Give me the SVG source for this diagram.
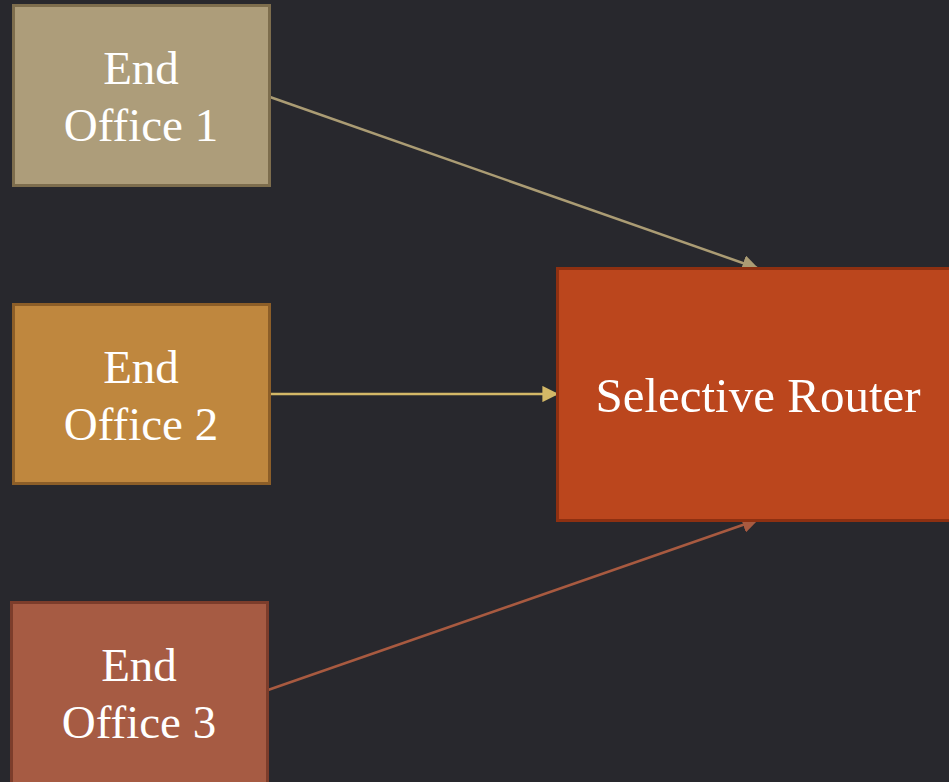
<svg xmlns="http://www.w3.org/2000/svg" width="949" height="782" viewBox="0 0 949 782">
<style>
.t{font-family:"Liberation Serif","DejaVu Serif",serif;fill:#ffffff;text-anchor:middle;font-size:47px}
.big{font-size:49px}
.box{stroke-width:3}
.c{fill:none;stroke-width:2.5}
</style>
<defs>
<marker id="a1" viewBox="0 0 10 10" refX="9" refY="5" markerWidth="6.5" markerHeight="6.5" markerUnits="strokeWidth" orient="auto"><path d="M0,0L10,5L0,10z" fill="#ab9c74"/></marker>
<marker id="a2" viewBox="0 0 10 10" refX="9" refY="5" markerWidth="6.5" markerHeight="6.5" markerUnits="strokeWidth" orient="auto"><path d="M0,0L10,5L0,10z" fill="#d3b867"/></marker>
<marker id="a3" viewBox="0 0 10 10" refX="9" refY="5" markerWidth="6.5" markerHeight="6.5" markerUnits="strokeWidth" orient="auto"><path d="M0,0L10,5L0,10z" fill="#a85a40"/></marker>
</defs>
<rect width="949" height="782" fill="#28282d"/>
<g id="connectors">
<line class="c" x1="270" y1="97" x2="757" y2="268" stroke="#ab9c74" marker-end="url(#a1)"/>
<line class="c" x1="270" y1="394" x2="557" y2="394" stroke="#d3b867" marker-end="url(#a2)"/>
<line class="c" x1="268" y1="690" x2="757" y2="520" stroke="#a85a40" marker-end="url(#a3)"/>
</g>
<g id="office1">
<rect class="box" x="13.5" y="5.5" width="256" height="180" fill="#ad9d7a" stroke="#7d6d4d"/>
<text class="t" x="141" y="84">End</text>
<text class="t" x="141" y="141">Office 1</text>
</g>
<g id="office2">
<rect class="box" x="13.5" y="304.5" width="256" height="179" fill="#bf873e" stroke="#8c5e28"/>
<text class="t" x="141" y="383">End</text>
<text class="t" x="141" y="440">Office 2</text>
</g>
<g id="office3">
<rect class="box" x="11.5" y="602.5" width="256" height="182" fill="#a65b43" stroke="#7c3d2b"/>
<text class="t" x="139" y="681">End</text>
<text class="t" x="139" y="738">Office 3</text>
</g>
<g id="router">
<rect class="box" x="557.5" y="268.5" width="395" height="252" fill="#bb461d" stroke="#8e3011"/>
<text class="t big" x="758" y="412">Selective Router</text>
</g>
</svg>
